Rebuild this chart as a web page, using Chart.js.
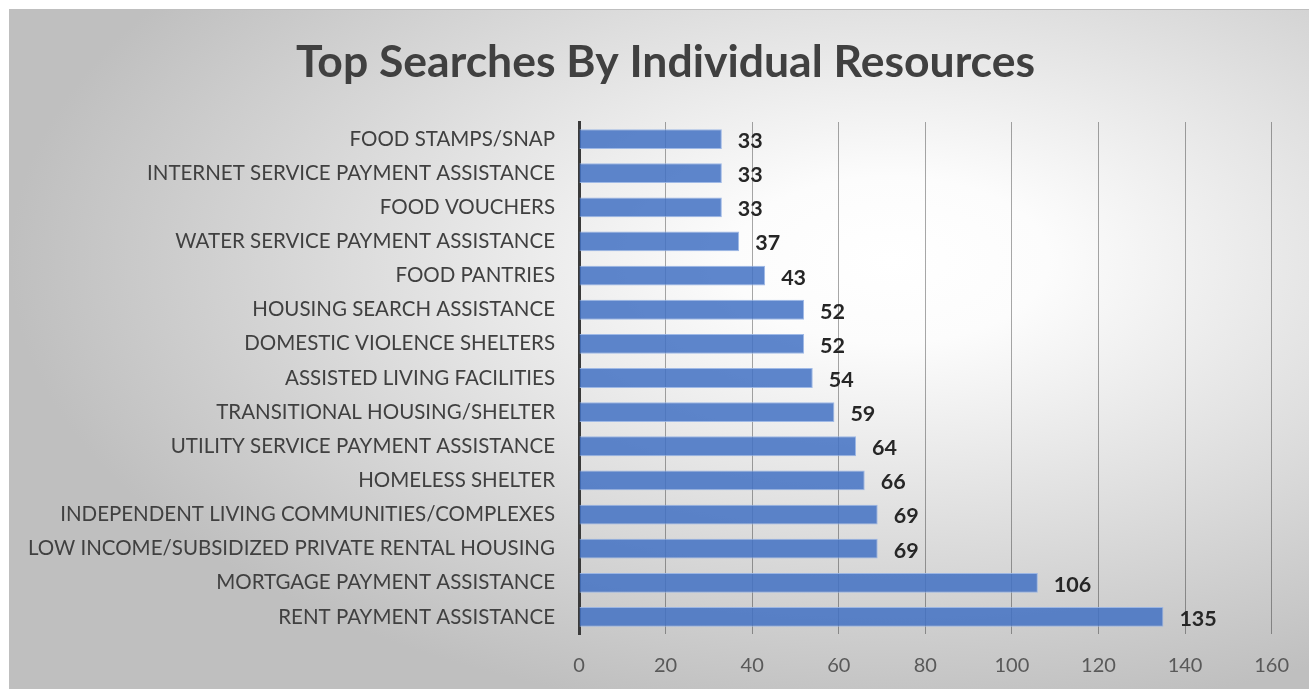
<!DOCTYPE html>
<html>
<head>
<meta charset="utf-8">
<script src="https://cdn.jsdelivr.net/npm/chart.js@4.4.1/dist/chart.umd.min.js"></script>
<style>
  html, body { margin: 0; padding: 0; background: #ffffff; }
  #frame {
    position: absolute; left: 9px; top: 9px;
    width: 1300px; height: 680px;
    border-top: 1px solid #bfbfbf; border-left: 1px solid #bfbfbf;
    box-sizing: border-box;
  }
  #chart { position: absolute; left: 0; top: 0; display: block; }
</style>
</head>
<body>
<div id="frame"><canvas id="chart" width="1299" height="679"></canvas></div>
<script>
const categories = [
  'FOOD STAMPS/SNAP',
  'INTERNET SERVICE PAYMENT ASSISTANCE',
  'FOOD VOUCHERS',
  'WATER SERVICE PAYMENT ASSISTANCE',
  'FOOD PANTRIES',
  'HOUSING SEARCH ASSISTANCE',
  'DOMESTIC VIOLENCE SHELTERS',
  'ASSISTED LIVING FACILITIES',
  'TRANSITIONAL HOUSING/SHELTER',
  'UTILITY SERVICE PAYMENT ASSISTANCE',
  'HOMELESS SHELTER',
  'INDEPENDENT LIVING COMMUNITIES/COMPLEXES',
  'LOW INCOME/SUBSIDIZED PRIVATE RENTAL HOUSING',
  'MORTGAGE PAYMENT ASSISTANCE',
  'RENT PAYMENT ASSISTANCE'
];
const searches = [33, 33, 33, 37, 43, 52, 52, 54, 59, 64, 66, 69, 69, 106, 135];
const axisTicks = [0, 20, 40, 60, 80, 100, 120, 140, 160];
const chartTitle = 'Top Searches By Individual Resources';

const FONT = 'Lato, Carlito, Calibri, "Open Sans", sans-serif';

// soft radial backdrop behind the whole chart
const backdrop = {
  id: 'backdrop',
  beforeDraw(chart) {
    const { ctx, width, height } = chart;
    const cx = 880, cy = 250, k = 1.9, R = 880;
    ctx.save();
    ctx.translate(cx, cy);
    ctx.scale(1, 1 / k);
    const g = ctx.createRadialGradient(0, 0, 0, 0, 0, R);
    g.addColorStop(0, '#ffffff');
    g.addColorStop(0.18, '#fcfcfc');
    g.addColorStop(1, '#bfbfbf');
    ctx.fillStyle = g;
    ctx.fillRect(-cx, -cy * k, width, height * k);
    ctx.restore();
  }
};

// centre the title on the full canvas width rather than the padded layout box
const titleSpan = {
  id: 'titleSpan',
  afterLayout(chart) {
    const t = chart.titleBlock;
    if (t) { t.left = 0; t.right = chart.width + 12; }
  }
};

// value labels just past the end of each bar
const valueLabels = {
  id: 'valueLabels',
  afterDatasetsDraw(chart) {
    const { ctx } = chart;
    const meta = chart.getDatasetMeta(0);
    ctx.save();
    ctx.font = 'bold 21.5px ' + FONT;
    ctx.fillStyle = '#262626';
    ctx.textAlign = 'left';
    ctx.textBaseline = 'middle';
    meta.data.forEach((bar, i) => {
      ctx.fillText(String(searches[i]), bar.x + 16, bar.y + 2);
    });
    ctx.restore();
  }
};

new Chart(document.getElementById('chart'), {
  type: 'bar',
  data: {
    labels: categories,
    datasets: [{
      data: searches,
      backgroundColor: 'rgba(68, 114, 196, 0.86)',
      borderColor: 'rgba(150, 178, 228, 0.9)',
      borderWidth: 1,
      categoryPercentage: 1,
      barPercentage: 0.58
    }]
  },
  options: {
    indexAxis: 'y',
    responsive: false,
    animation: false,
    layout: { padding: { left: 0, right: 36, top: 0, bottom: 0 } },
    plugins: {
      legend: { display: false },
      tooltip: { enabled: false },
      title: {
        display: true,
        text: chartTitle,
        color: '#404040',
        font: { family: FONT, size: 44.5, weight: 'bold', lineHeight: 1.2 },
        padding: { top: 26, bottom: 32.6 }
      }
    },
    scales: {
      x: {
        type: 'linear',
        min: axisTicks[0],
        max: axisTicks[axisTicks.length - 1],
        afterBuildTicks(scale) { scale.ticks = axisTicks.map(v => ({ value: v })); },
        afterFit(scale) { scale.height = 55; },
        grid: { color: 'rgba(0,0,0,0.34)', lineWidth: 1, drawTicks: false },
        border: { display: false },
        ticks: {
          color: '#595959',
          padding: 20,
          font: { family: FONT, size: 20 }
        }
      },
      y: {
        afterFit(scale) { scale.width = 569; },
        grid: { display: false, drawTicks: false },
        border: { display: true, color: '#3a3a3a', width: 3 },
        ticks: {
          color: '#404040',
          padding: 24,
          autoSkip: false,
          font: { family: FONT, size: 20.5 }
        }
      }
    }
  },
  plugins: [backdrop, titleSpan, valueLabels]
});
</script>
</body>
</html>
